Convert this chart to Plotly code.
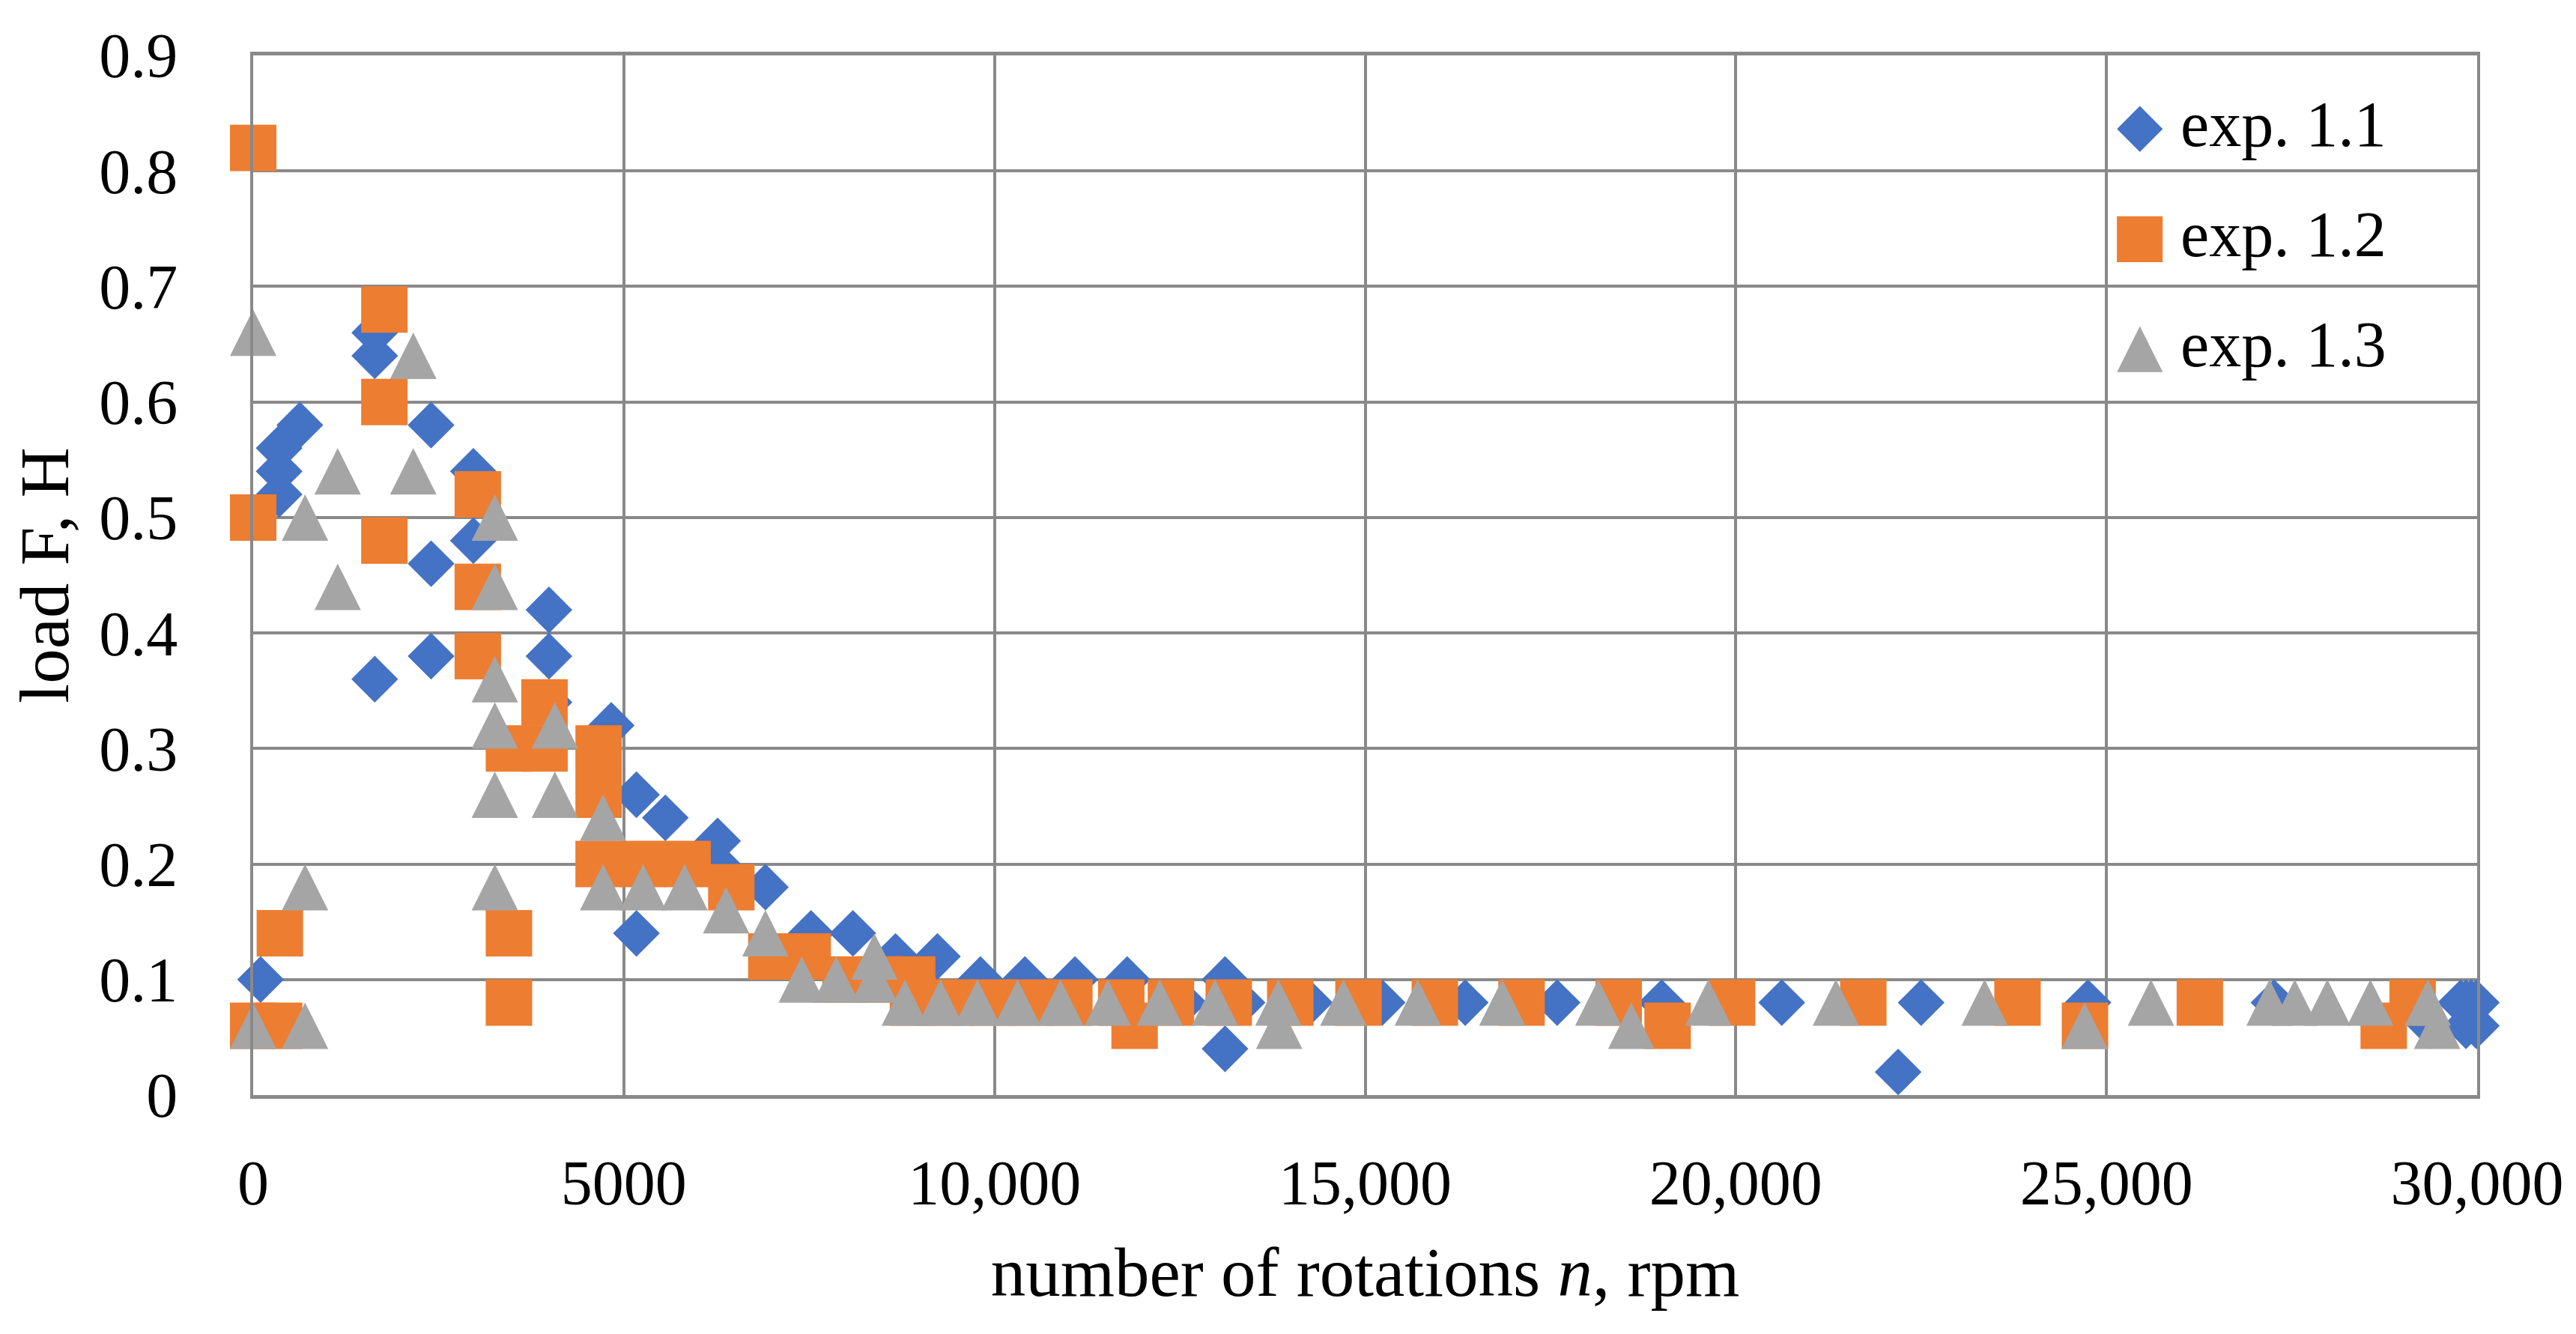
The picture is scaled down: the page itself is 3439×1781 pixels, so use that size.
import plotly.graph_objects as go

# ---- data ----
exp11_n = [100, 350, 350, 350, 630, 1640, 1640, 1640, 2400, 2400, 2400, 2970, 2970,
           3990, 3990, 3990, 4830, 5170, 5170, 5560, 6265, 6265, 6910, 7525, 8090,
           8665, 9230, 9810, 10410, 11085, 11790, 12550, 13110, 13110, 13340, 14250,
           15230, 16350, 17590, 19000, 20620, 22190, 22500, 24750, 27260, 29370,
           29780, 29850, 29920, 29990, 29850, 29990]
exp11_f = [0.10, 0.52, 0.54, 0.56, 0.58, 0.36, 0.64, 0.66, 0.38, 0.46, 0.58, 0.48, 0.54,
           0.34, 0.38, 0.42, 0.32, 0.14, 0.26, 0.24, 0.20, 0.22, 0.18, 0.14, 0.14,
           0.12, 0.12, 0.10, 0.10, 0.10, 0.10, 0.08, 0.10, 0.04, 0.08, 0.08,
           0.08, 0.08, 0.08, 0.08, 0.08, 0.02, 0.08, 0.08, 0.08, 0.06,
           0.08, 0.08, 0.08, 0.08, 0.06, 0.06]

exp12_n = [0, 0, 0, 350, 360, 1770, 1770, 1770, 3030, 3030, 3030, 3450, 3450, 3450,
           3930, 3930, 4660, 4660, 4660, 5255, 5860, 6450, 6990, 7480, 7990, 8440,
           8890, 8900, 9430, 9970, 10490, 11010, 11710, 11890, 12380, 13160, 13990,
           14910, 15940, 17110, 18420, 19080, 19950, 21720, 23800, 24710, 26260,
           28740, 29130]
exp12_f = [0.82, 0.50, 0.06, 0.06, 0.14, 0.68, 0.60, 0.48, 0.52, 0.44, 0.38, 0.30, 0.14, 0.08,
           0.34, 0.30, 0.30, 0.26, 0.20, 0.20, 0.20, 0.18, 0.12, 0.12, 0.10, 0.10,
           0.10, 0.08, 0.08, 0.08, 0.08, 0.08, 0.08, 0.06, 0.08, 0.08, 0.08,
           0.08, 0.08, 0.08, 0.08, 0.06, 0.08, 0.08, 0.08, 0.06, 0.08,
           0.06, 0.08]

exp13_n = [0, 0, 700, 700, 700, 1140, 1140, 2160, 2160, 3260, 3260, 3260, 3260, 3260,
           3260, 4070, 4070, 4720, 4720, 5260, 5820, 6380, 6910, 7400, 7865, 8380,
           8380, 8790, 9270, 9770, 10310, 10890, 11530, 12230, 12975, 13830, 13840,
           14706, 15710, 16850, 18145, 18590, 19630, 21350, 23356, 24706, 25600,
           27200, 27540, 27980, 28560, 29335, 29460]
exp13_f = [0.66, 0.06, 0.50, 0.18, 0.06, 0.54, 0.44, 0.64, 0.54, 0.50, 0.44, 0.36, 0.32, 0.26,
           0.18, 0.32, 0.26, 0.24, 0.18, 0.18, 0.18, 0.16, 0.14, 0.10, 0.10, 0.12,
           0.10, 0.08, 0.08, 0.08, 0.08, 0.08, 0.08, 0.08, 0.08, 0.08, 0.06,
           0.08, 0.08, 0.08, 0.08, 0.06, 0.08, 0.08, 0.08, 0.06, 0.08,
           0.08, 0.08, 0.08, 0.08, 0.08, 0.06]

x_tick_vals = [0, 5000, 10000, 15000, 20000, 25000, 30000]
x_tick_text = ["0", "5000", "10,000", "15,000", "20,000", "25,000", "30,000"]
y_tick_vals = [0, 0.1, 0.2, 0.3, 0.4, 0.5, 0.6, 0.7, 0.8, 0.9]
y_tick_text = ["0", "0.1", "0.2", "0.3", "0.4", "0.5", "0.6", "0.7", "0.8", "0.9"]

series_names = ["exp. 1.1", "exp. 1.2", "exp. 1.3"]
colors = ["#4472C4", "#ED7D31", "#A5A5A5"]
legend_glyphs = ["\u25C6", "\u25A0", "\u25B2"]

FONT = "Liberation Serif"
GRID = "#898989"

fig = go.Figure()
fig.add_trace(go.Scatter(x=exp11_n, y=exp11_f, mode="markers", name=series_names[0],
                         cliponaxis=False,
                         marker=dict(symbol="diamond", size=48, color=colors[0], line=dict(width=0))))
fig.add_trace(go.Scatter(x=exp12_n, y=exp12_f, mode="markers", name=series_names[1],
                         cliponaxis=False,
                         marker=dict(symbol="square", size=62, color=colors[1], line=dict(width=0))))
# equal-sided triangle centred on the point: arrow-down turned 180 degrees, pushed back by half its height
fig.add_trace(go.Scatter(x=exp13_n, y=exp13_f, mode="markers", name=series_names[2],
                         cliponaxis=False,
                         marker=dict(symbol="arrow-down", angle=180, size=62, standoff=31,
                                     color=colors[2], line=dict(width=0))))

# legend built from text glyphs (keeps the large key symbols of the original)
leg_y = [0.934, 0.828, 0.722]
for i in range(3):
    fig.add_annotation(xref="paper", yref="paper", x=0.8485, y=leg_y[i],
                       xanchor="center", yanchor="middle", showarrow=False,
                       text=legend_glyphs[i],
                       font=dict(family="DejaVu Sans", size=80, color=colors[i]))
    fig.add_annotation(xref="paper", yref="paper", x=0.8660, y=leg_y[i],
                       xanchor="left", yanchor="middle", showarrow=False,
                       text=series_names[i],
                       font=dict(family=FONT, size=86, color="black"))

fig.update_layout(
    width=3439, height=1781,
    margin=dict(l=330, r=140, t=66, b=327),
    paper_bgcolor="white", plot_bgcolor="white",
    showlegend=False,
    font=dict(family=FONT, size=84, color="black"),
)
fig.update_xaxes(range=[0, 30000], tickvals=x_tick_vals, ticktext=x_tick_text,
                 showgrid=True, gridcolor=GRID, gridwidth=4,
                 showline=True, mirror=True, linecolor=GRID, linewidth=5,
                 zeroline=False, ticks="", ticklabelstandoff=40,
                 title=dict(text="number of rotations <i>n</i>, rpm", standoff=42,
                            font=dict(family=FONT, size=93)))
fig.update_yaxes(range=[0, 0.9], tickvals=y_tick_vals, ticktext=y_tick_text,
                 showgrid=True, gridcolor=GRID, gridwidth=4,
                 showline=True, mirror=True, linecolor=GRID, linewidth=4,
                 zeroline=False, ticks="", ticklabelstandoff=80,
                 title=dict(text="load F, H", standoff=25,
                            font=dict(family=FONT, size=93)))

fig.write_html("out.html")
